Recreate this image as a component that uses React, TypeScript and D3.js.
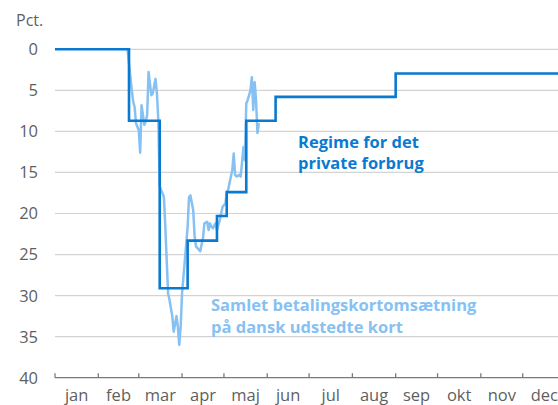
import React from "react";
import * as d3 from "d3";

const monthLabels = ["jan", "feb", "mar", "apr", "maj", "jun", "jul", "aug", "sep", "okt", "nov", "dec"];
const yTicks = [0, 5, 10, 15, 20, 25, 30, 35, 40];

// Regime for det private forbrug (step series, value holds from date onward)
const regimeDates = [
  "2020-01-01", "2020-02-23", "2020-03-16", "2020-04-05", "2020-04-26",
  "2020-05-03", "2020-05-17", "2020-06-07", "2020-09-01", "2021-01-01",
];
const regimeValues = [0, 8.7, 29.1, 23.3, 20.3, 17.4, 8.7, 5.8, 2.95, 2.95];

// Samlet betalingskortomsætning på dansk udstedte kort
const cardDates = [
  "2020-02-22", "2020-02-25", "2020-02-26", "2020-02-27", "2020-02-28",
  "2020-03-01", "2020-03-02", "2020-03-03", "2020-03-05", "2020-03-06",
  "2020-03-07", "2020-03-08", "2020-03-10", "2020-03-11", "2020-03-13",
  "2020-03-14", "2020-03-15", "2020-03-16", "2020-03-19", "2020-03-20",
  "2020-03-21", "2020-03-22", "2020-03-23", "2020-03-25", "2020-03-26",
  "2020-03-28", "2020-03-29", "2020-03-30", "2020-03-31", "2020-04-01",
  "2020-04-03", "2020-04-05", "2020-04-06", "2020-04-07", "2020-04-09",
  "2020-04-10", "2020-04-11", "2020-04-12", "2020-04-14", "2020-04-16",
  "2020-04-17", "2020-04-19", "2020-04-20", "2020-04-21", "2020-04-22",
  "2020-04-23", "2020-04-25", "2020-04-26", "2020-04-28", "2020-04-29",
  "2020-04-30", "2020-05-02", "2020-05-03", "2020-05-04", "2020-05-05",
  "2020-05-07", "2020-05-08", "2020-05-09", "2020-05-10", "2020-05-12",
  "2020-05-13", "2020-05-15", "2020-05-16", "2020-05-17", "2020-05-18",
  "2020-05-20", "2020-05-21", "2020-05-22", "2020-05-23", "2020-05-24",
  "2020-05-25", "2020-05-26",
];
const cardValues = [
  0.1, 5.0, 6.4, 7.0, 9.0,
  9.85, 12.6, 6.8, 9.2, 8.8,
  8.0, 2.75, 5.6, 5.4, 3.6,
  5.4, 8.6, 16.7, 18.0, 21.6,
  25.7, 29.7, 30.5, 32.5, 34.4,
  32.5, 33.8, 36.0, 33.8, 29.7,
  25.7, 21.6, 18.0, 17.8, 19.6,
  22.8, 24.0, 24.2, 24.6, 23.0,
  21.2, 21.0, 22.0, 21.2, 21.6,
  21.8, 21.2, 22.0, 20.8, 20.0,
  19.2, 18.8, 17.5, 17.1, 16.3,
  14.7, 12.7, 15.3, 15.5, 15.3,
  15.5, 11.9, 13.5, 6.6, 6.2,
  5.0, 3.4, 7.4, 4.0, 6.2,
  10.2, 9.0,
];

const W = 558;
const H = 405;
const DARK = "#0a7ad0";
const LIGHT = "#86c1f3";
const GRAY = "#5f5f5f";
const FONT = "'Open Sans', sans-serif";

export default function App() {
  const parse = d3.utcParse("%Y-%m-%d");
  const x = d3
    .scaleUtc()
    .domain([parse("2020-01-01")!, parse("2021-01-01")!])
    .range([55, 566]);
  const y = d3.scaleLinear().domain([0, 40]).range([49.3, 377.7]);

  const regime = regimeDates.map((d, i) => ({ date: parse(d)!, v: regimeValues[i] }));
  const card = cardDates.map((d, i) => ({ date: parse(d)!, v: cardValues[i] }));

  const stepLine = d3
    .line<{ date: Date; v: number }>()
    .x((d) => x(d.date))
    .y((d) => y(d.v))
    .curve(d3.curveStepAfter);
  const line = d3
    .line<{ date: Date; v: number }>()
    .x((d) => x(d.date))
    .y((d) => y(d.v));

  const months = d3.utcMonth.range(parse("2020-01-01")!, parse("2021-01-01")!);

  return (
    <svg
      width={W}
      height={H}
      style={{ position: "absolute", left: 0, top: 0, background: "#fff" }}
      fontFamily={FONT}
    >
      <text x={16} y={26} fontSize={16} fill={GRAY}>Pct.</text>
      {yTicks.slice(0, -1).map((t) => (
        <line key={t} x1={55} x2={W} y1={y(t)} y2={y(t)} stroke="#d3d3d3" strokeWidth={1.2} />
      ))}
      {yTicks.map((t) => (
        <text key={t} x={38} y={y(t)} dy="0.36em" textAnchor="end" fontSize={16.5} fill={GRAY}>
          {t}
        </text>
      ))}
      <line x1={55} x2={W} y1={y(40)} y2={y(40)} stroke="#7a7a7a" strokeWidth={1.3} />
      {months.map((m, i) => {
        const next = d3.utcMonth.offset(m, 1);
        const cx = (x(m) + x(next)) / 2;
        return (
          <g key={i}>
            <line x1={x(m)} x2={x(m)} y1={y(40)} y2={y(40) - 4.5} stroke="#7a7a7a" strokeWidth={1.3} />
            <text x={cx} y={401} textAnchor="middle" fontSize={16.5} fill={GRAY}>
              {monthLabels[i]}
            </text>
          </g>
        );
      })}
      <path d={line(card)!} fill="none" stroke={LIGHT} strokeWidth={2.5} strokeLinejoin="round" />
      <path d={stepLine(regime)!} fill="none" stroke={DARK} strokeWidth={2.6} />
      <text x={298} y={148} fontSize={16.5} fontWeight="bold" fill={DARK}>
        <tspan x={298}>Regime for det</tspan>
        <tspan x={298} dy={21}>private forbrug</tspan>
      </text>
      <text x={211} y={311} fontSize={16.5} fontWeight="bold" fill={LIGHT}>
        <tspan x={211}>Samlet betalingskortomsætning</tspan>
        <tspan x={211} dy={21.5}>på dansk udstedte kort</tspan>
      </text>
    </svg>
  );
}
